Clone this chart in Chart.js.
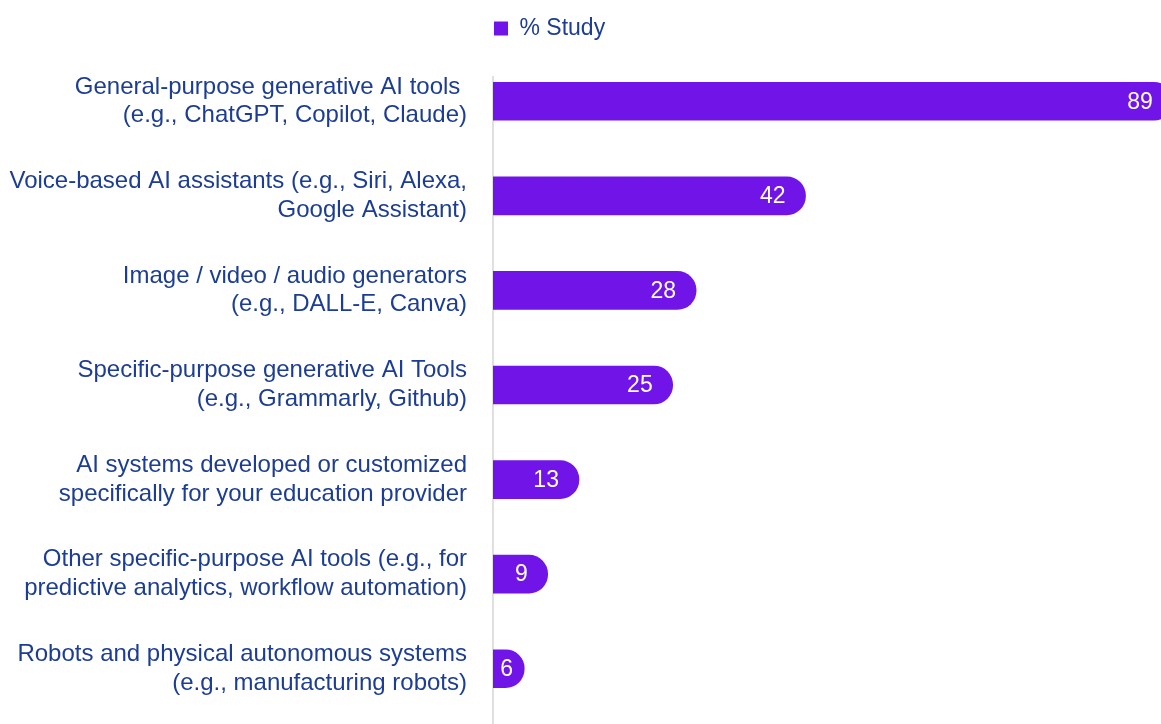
<!DOCTYPE html>
<html>
<head>
<meta charset="utf-8">
<script src="https://cdn.jsdelivr.net/npm/chart.js@4"></script>
<style>
  html, body { margin: 0; padding: 0; background: #fff; }
  #wrap { width: 1161px; height: 724px; }
</style>
</head>
<body>
<div id="wrap"><canvas id="usageChart"></canvas></div>
<script>
// AI TOOLS USED FOR STUDY

const categories = [
  ["General-purpose generative AI tools ", "(e.g., ChatGPT, Copilot, Claude)"],
  ["Voice-based AI assistants (e.g., Siri, Alexa,", "Google Assistant)"],
  ["Image / video / audio generators", "(e.g., DALL-E, Canva)"],
  ["Specific-purpose generative AI Tools", "(e.g., Grammarly, Github)"],
  ["AI systems developed or customized", "specifically for your education provider"],
  ["Other specific-purpose AI tools (e.g., for", "predictive analytics, workflow automation)"],
  ["Robots and physical autonomous systems", "(e.g., manufacturing robots)"]
];
const studyValues = [89, 42, 28, 25, 13, 9, 6];
const seriesLabel = "% Study";

const purple = '#7014e8';
const navy = '#1c3d93';
const fontFamily = "'Liberation Sans', Arial, sans-serif";

// value labels inside the bar ends
const valueLabels = {
  id: 'valueLabels',
  afterDatasetsDraw(chart) {
    const ctx = chart.ctx;
    const meta = chart.getDatasetMeta(0);
    const left = chart.chartArea.left;
    ctx.save();
    ctx.fillStyle = '#fff';
    ctx.font = '23px ' + fontFamily;
    ctx.textBaseline = 'middle';
    ctx.textAlign = 'right';
    meta.data.forEach((bar, i) => {
      const text = String(studyValues[i]);
      const x = Math.max(bar.x - 20, left + 20);
      ctx.fillText(text, x, bar.y + 1);
    });
    ctx.restore();
  }
};

// thin grey axis line on the left of the bars
const axisLine = {
  id: 'axisLine',
  beforeDatasetsDraw(chart) {
    const ctx = chart.ctx;
    const x = chart.chartArea.left;
    ctx.save();
    ctx.strokeStyle = '#d6d6d6';
    ctx.lineWidth = 1.5;
    ctx.beginPath();
    ctx.moveTo(x, chart.chartArea.top + 22);
    ctx.lineTo(x, chart.height);
    ctx.stroke();
    ctx.restore();
  }
};

// extra room under the legend
const legendGap = {
  id: 'legendGap',
  beforeInit(chart) {
    const fit = chart.legend.fit;
    chart.legend.fit = function () {
      fit.bind(chart.legend)();
      this.height += 4;
    };
  }
};

new Chart(document.getElementById('usageChart'), {
  type: 'bar',
  data: {
    labels: categories,
    datasets: [{
      label: seriesLabel,
      data: studyValues,
      backgroundColor: purple,
      borderRadius: 19,
      borderSkipped: 'start',
      barThickness: 38
    }]
  },
  plugins: [legendGap, axisLine, valueLabels],
  options: {
    indexAxis: 'y',
    responsive: true,
    maintainAspectRatio: false,
    animation: false,
    layout: { padding: { top: 16, bottom: 8, left: 0, right: 0 } },
    scales: {
      x: {
        display: false,
        min: 2,
        max: 87.5
      },
      y: {
        grid: { display: false },
        border: { display: false },
        ticks: {
          color: navy,
          padding: 18,
          font: { family: fontFamily, size: 24, lineHeight: 1.2 }
        },
        afterFit(scale) {
          scale.width = 493;
          scale.paddingTop = 0;
          scale.paddingBottom = 0;
        }
      }
    },
    plugins: {
      legend: {
        position: 'top',
        align: 'start',
        fullSize: false,
        labels: {
          color: navy,
          boxWidth: 14,
          boxHeight: 14,
          padding: 1,
          font: { family: fontFamily, size: 23 }
        }
      },
      tooltip: { enabled: false }
    }
  }
});
</script>
</body>
</html>
